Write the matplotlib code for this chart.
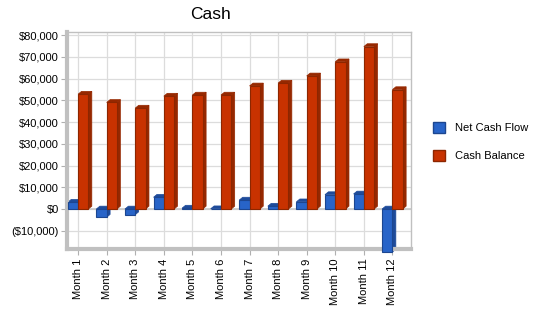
import numpy as np
import matplotlib
matplotlib.use("Agg")
from matplotlib import pyplot as plt
from matplotlib.patches import Polygon, Patch
from matplotlib.ticker import FuncFormatter

months = ["Month %d" % i for i in range(1, 13)]
net_cash_flow = [3100, -3800, -2600, 5400, 400, 100, 4100, 1300, 3300, 6600, 6900, -19800]
cash_balance = [52800, 49000, 46400, 51900, 52400, 52400, 56600, 57900, 61200, 67700, 74700, 54900]

blue, blue_side, blue_edge = "#2864c8", "#1e4b9a", "#1c4690"
red, red_side, red_edge = "#c83200", "#962800", "#8c2600"

plt.rcParams['font.family'] = ['Liberation Sans', 'DejaVu Sans']

fig = plt.figure(figsize=(5.5, 3.18), dpi=100)
ax = fig.add_axes([0.122, 0.217, 0.625, 0.683])

x = np.arange(len(months))
w = 0.36
dx, dy = 0.12, 1300  # fake 3d depth


def bars3d(xs, vals, face, side, edge):
    rects = ax.bar(xs, vals, w, color=face, edgecolor=edge, linewidth=0.8,
                   zorder=3, clip_on=False)
    for r, v in zip(rects, vals):
        x0 = r.get_x()
        x1 = x0 + r.get_width()
        top = max(v, 0)
        bot = min(v, 0)
        # right side face
        ax.add_patch(Polygon([[x1, bot], [x1 + dx, bot + dy], [x1 + dx, top + dy], [x1, top]],
                             closed=True, facecolor=side, edgecolor=side, lw=0.5,
                             zorder=2, clip_on=False))
        # top face
        ax.add_patch(Polygon([[x0, top], [x0 + dx, top + dy], [x1 + dx, top + dy], [x1, top]],
                             closed=True, facecolor=side, edgecolor=side, lw=0.5,
                             zorder=2, clip_on=False))
    return rects


bars3d(x - w / 2, net_cash_flow, blue, blue_side, blue_edge)
bars3d(x + w / 2, cash_balance, red, red_side, red_edge)

ax.set_xlim(-0.385, 11.645)
ax.set_ylim(-18400, 81500)
ax.set_yticks(np.arange(-10000, 80001, 10000))


def money(v, pos):
    if v < 0:
        return "(${:,.0f})".format(-v)
    return "${:,.0f}".format(v)


ax.yaxis.set_major_formatter(FuncFormatter(money))
ax.set_xticks(x)
ax.set_xticklabels(months, rotation=90, fontsize=8)
ax.tick_params(axis='y', labelsize=8, length=4, color="#b0b0b0", pad=2)
ax.tick_params(axis='x', length=4, color="#b0b0b0", pad=3)

ax.grid(True, color="#dcdcdc", linewidth=0.9, zorder=0)
ax.set_axisbelow(True)
ax.axhline(0, color="#c8c8c8", linewidth=1.2, zorder=1)

for s in ["top", "right"]:
    ax.spines[s].set_color("#c0c0c0")
    ax.spines[s].set_linewidth(1)
for s in ["left", "bottom"]:
    ax.spines[s].set_color("#c0c0c0")
    ax.spines[s].set_linewidth(3)

ax.set_title("Cash", fontsize=12.5, pad=9, x=0.416)

handles = [Patch(facecolor=blue, edgecolor=blue_edge, label="Net Cash Flow"),
           Patch(facecolor=red, edgecolor=red_edge, label="Cash Balance")]
fig.legend(handles=handles, loc="upper left", bbox_to_anchor=(0.769, 0.648),
           frameon=False, fontsize=8, handlelength=1.1, handleheight=1.1,
           labelspacing=1.55, handletextpad=0.9)

fig.savefig("out.png", dpi=100)
